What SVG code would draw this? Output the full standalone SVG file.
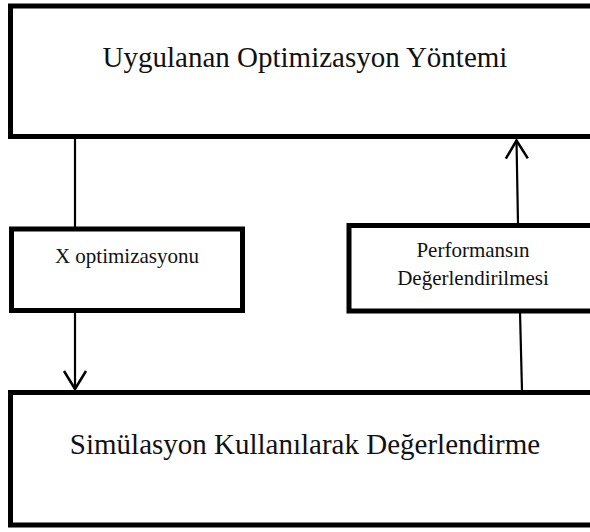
<svg xmlns="http://www.w3.org/2000/svg" width="590" height="532" viewBox="0 0 590 532">
  <style>
    .box { fill: #ffffff; stroke: #000000; stroke-width: 5; }
    .big { font-family: "Liberation Serif", "Times New Roman", serif; font-size: 29px; fill: #111111; text-anchor: middle; }
    .small { font-family: "Liberation Serif", "Times New Roman", serif; font-size: 21px; fill: #111111; text-anchor: middle; }
    .conn { stroke: #000000; stroke-width: 2.2; fill: none; }
  </style>
  <defs>
    <marker id="arrow" markerUnits="userSpaceOnUse" markerWidth="24" markerHeight="28" viewBox="-20 -14 24 28" refX="0" refY="0" orient="auto">
      <path d="M-18,-11 L0,0 L-18,11" fill="none" stroke="#000000" stroke-width="2.5"/>
    </marker>
  </defs>
  <rect x="0" y="0" width="590" height="532" fill="#ffffff"/>

  <g id="connectors">
    <line class="conn" x1="75" y1="138" x2="75" y2="227"/>
    <line class="conn" x1="75" y1="312" x2="75" y2="389" marker-end="url(#arrow)"/>
    <line class="conn" x1="518" y1="224" x2="516.5" y2="140.5" marker-end="url(#arrow)"/>
    <line class="conn" x1="520" y1="312" x2="522" y2="391"/>
  </g>

  <g id="node-optimizasyon-yontemi">
    <rect class="box" x="10.5" y="6" width="600" height="130.5"/>
    <text class="big" x="305" y="67">Uygulanan Optimizasyon Yöntemi</text>
  </g>

  <g id="node-x-optimizasyonu">
    <rect class="box" x="11.5" y="229" width="231" height="81.5"/>
    <text class="small" x="127" y="263">X optimizasyonu</text>
  </g>

  <g id="node-performans">
    <rect class="box" x="349" y="225.5" width="260" height="85.5"/>
    <text class="small" x="473" y="257">Performansın</text>
    <text class="small" x="473" y="285">Değerlendirilmesi</text>
  </g>

  <g id="node-simulasyon">
    <rect class="box" x="10.5" y="392.5" width="600" height="132.5"/>
    <text class="big" x="305" y="454">Simülasyon Kullanılarak Değerlendirme</text>
  </g>
</svg>
